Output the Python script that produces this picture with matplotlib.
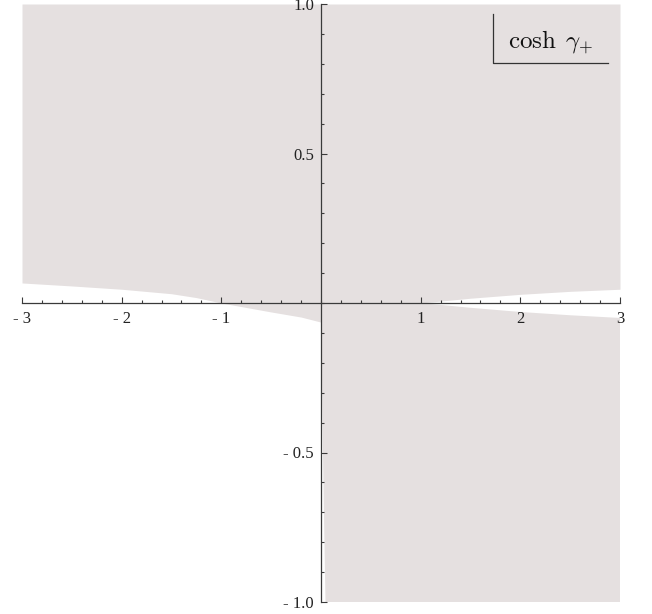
import numpy as np
import matplotlib
matplotlib.use('Agg')
import matplotlib.pyplot as plt

# region boundary
upper_left_x = [-3, -2.5, -2, -1.5, -1.25, -1, -0.5, -0.2, 0]
upper_left_y = [0.067, 0.057, 0.046, 0.031, 0.018, 0.0, -0.030, -0.047, -0.064]
upper_right_x = [0, 1, 1.5, 2, 2.5, 3]
upper_right_y = [0.0, 0.0, 0.016, 0.029, 0.039, 0.046]

lower_top_x = [0, 1, 1.5, 2, 2.5, 3]
lower_top_y = [0.0, 0.0, -0.016, -0.030, -0.041, -0.050]
lower_edge_y = [0, -0.25, -0.5, -0.75, -1]
lower_edge_x = [0, 0.01, 0.02, 0.032, 0.045]

xtick_vals = [-3, -2, -1, 1, 2, 3]
xtick_labels = ['- 3', '- 2', '- 1', '1', '2', '3']
ytick_vals = [-1, -0.5, 0.5, 1]
ytick_labels = ['- 1.0', '- 0.5', '0.5', '1.0']

fill_col = '#e5e0e0'
axis_col = '#3a3a3a'

plt.rcParams['font.family'] = 'Liberation Serif'
plt.rcParams['mathtext.fontset'] = 'cm'

fig = plt.figure(figsize=(6.52, 6.14), dpi=100)
ax = fig.add_axes([22 / 652, 12 / 614, 598 / 652, 598 / 614])

bx = np.array(upper_left_x + upper_right_x)
by = np.array(upper_left_y + upper_right_y)
ax.fill_between(bx, by, 1, color=fill_col, lw=0, zorder=0)

lx = lower_edge_x + [3] + lower_top_x[::-1]
ly = lower_edge_y + [-1] + lower_top_y[::-1]
ax.fill(lx, ly, color=fill_col, lw=0, zorder=0)

ax.set_xlim(-3, 3)
ax.set_ylim(-1, 1)
ax.patch.set_visible(False)
for s in ['top', 'right']:
    ax.spines[s].set_visible(False)
for s in ['left', 'bottom']:
    ax.spines[s].set_position(('data', 0))
    ax.spines[s].set_color(axis_col)
    ax.spines[s].set_linewidth(0.9)

ax.set_xticks(xtick_vals, labels=xtick_labels)
ax.set_yticks(ytick_vals, labels=ytick_labels)
ax.set_xticks(np.arange(-3, 3.01, 0.2), minor=True)
ax.set_yticks(np.arange(-1, 1.01, 0.1), minor=True)
ax.tick_params(which='both', direction='in', color=axis_col, width=0.8,
               labelsize=12, labelcolor='#222222')
ax.tick_params(which='major', length=4.5)
ax.tick_params(which='minor', length=2.5)
ax.tick_params(axis='x', pad=6)
ax.tick_params(axis='y', pad=5)
for t in ax.get_xticklabels() + ax.get_yticklabels():
    t.set_clip_on(False)

# legend in the corner
ax.plot([0.7876, 0.7876, 0.980], [0.983, 0.901, 0.901], transform=ax.transAxes,
        color='#333333', lw=0.9, clip_on=False)
ax.text(0.8127, 0.926, r'$\cosh\;\gamma_{+}$', transform=ax.transAxes,
        fontsize=18, ha='left', va='baseline', color='#111111')

fig.savefig('out.png', dpi=100)
